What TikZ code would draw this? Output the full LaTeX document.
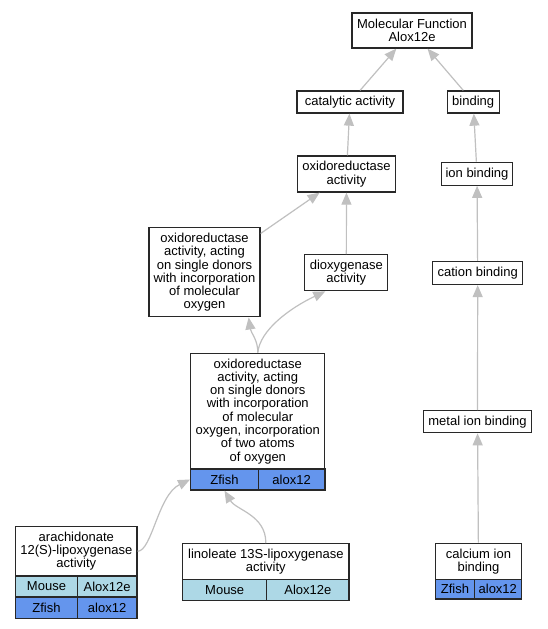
\documentclass[tikz,border=0pt]{standalone}
\usepackage{fontspec}
\setmainfont{Liberation Sans}
\usetikzlibrary{arrows.meta}
\definecolor{edgegray}{RGB}{192,192,192}
\definecolor{mouseblue}{HTML}{ADD8E6}
\definecolor{zfishblue}{HTML}{6495ED}
\definecolor{bordergray}{RGB}{40,40,40}
\tikzset{
 box/.style={draw=bordergray, line width=1.3pt, fill=white, inner sep=0pt, align=center, font=\fontsize{13}{13.3}\selectfont},
 mousecell/.style={box, fill=mouseblue},
 zfishcell/.style={box, fill=zfishblue},
 edge/.style={draw=edgegray, line width=1.2pt, -{Triangle[length=12pt,width=10pt,fill=edgegray]}},
}
\begin{document}
\begin{tikzpicture}[x=1pt,y=-1pt]
\useasboundingbox[fill=white] (0,0) rectangle (547,629);
% nodes
\node[box, minimum width=120, minimum height=35] (mf) at (412,30.5) {Molecular Function\\Alox12e};
\node[box, minimum width=106, minimum height=22] (cat) at (350,102) {catalytic activity};
\node[box, minimum width=52, minimum height=22] (bind) at (473.2,102) {binding};
\node[box, minimum width=98, minimum height=36] (oxa) at (346.5,174) {oxidoreductase\\activity};
\node[box, minimum width=71, minimum height=23] (ionb) at (477,173.7) {ion binding};
\node[box, minimum width=111, minimum height=89] (oxl) at (204.5,272.3) {oxidoreductase\\activity, acting\\on single donors\\with incorporation\\of molecular\\oxygen};
\node[box, minimum width=83, minimum height=36] (diox) at (346.3,272.7) {dioxygenase\\activity};
\node[box, minimum width=90, minimum height=23] (catb) at (477.7,273) {cation binding};
\node[box, minimum width=108, minimum height=22] (metal) at (477.5,421.7) {metal ion binding};
% big node
\node[box, minimum width=134, minimum height=116] (bigw) at (257.8,411.2) {oxidoreductase\\activity, acting\\on single donors\\with incorporation\\of molecular\\oxygen, incorporation\\of two atoms\\of oxygen};
\node[zfishcell, minimum width=67.6, minimum height=21] (bigz1) at (224.5,479.5) {Zfish};
\node[zfishcell, minimum width=66.7, minimum height=21] (bigz2) at (291.65,479.5) {alox12};
% arachidonate
\node[box, minimum width=121.3, minimum height=49.3] (arw) at (76.3,551.3) {arachidonate\\12(S)-lipoxygenase\\activity};
\node[mousecell, minimum width=61.6, minimum height=21] (arm1) at (46.5,586.5) {Mouse};
\node[mousecell, minimum width=59.7, minimum height=21] (arm2) at (107.15,586.5) {Alox12e};
\node[zfishcell, minimum width=61.6, minimum height=21.3] (arz1) at (46.5,607.7) {Zfish};
\node[zfishcell, minimum width=59.7, minimum height=21.3] (arz2) at (107.15,607.7) {alox12};
% linoleate
\node[box, minimum width=166.3, minimum height=35.6] (linw) at (265.85,561.5) {linoleate 13S-lipoxygenase\\activity};
\node[mousecell, minimum width=84, minimum height=21.4] (linm1) at (224.7,590) {Mouse};
\node[mousecell, minimum width=82.3, minimum height=21.4] (linm2) at (307.85,590) {Alox12e};
% calcium
\node[box, minimum width=85.6, minimum height=36] (calw) at (478.5,561.3) {calcium ion\\binding};
\node[zfishcell, minimum width=38.6, minimum height=19.7] (calz1) at (455,589.2) {Zfish};
\node[zfishcell, minimum width=47, minimum height=19.7] (calz2) at (497.8,589.2) {alox12};
% edges
\draw[edge] (cat) -- (mf);
\draw[edge] (bind) -- (mf);
\draw[edge] (oxa) -- (cat);
\draw[edge] (ionb) -- (bind);
\draw[edge] (oxl) -- (oxa);
\draw[edge] (diox) -- (oxa);
\draw[edge] (catb) -- (ionb);
\draw[edge] (metal) -- (catb);
\draw[edge] (calw) -- (metal);
\draw[edge] (bigw.north) .. controls (258,340) and (251,333) .. ([xshift=-12]oxl.south east);
\draw[edge] (bigw.north) .. controls (260,330) and (290,308) .. ([xshift=-21]diox.south);
\draw[edge] (arw.east) .. controls (152,551) and (158,495) .. (bigz1.west);
\draw[edge] (linw.north) .. controls (266,515) and (236,510) .. (bigz1.south);
\end{tikzpicture}
\end{document}
